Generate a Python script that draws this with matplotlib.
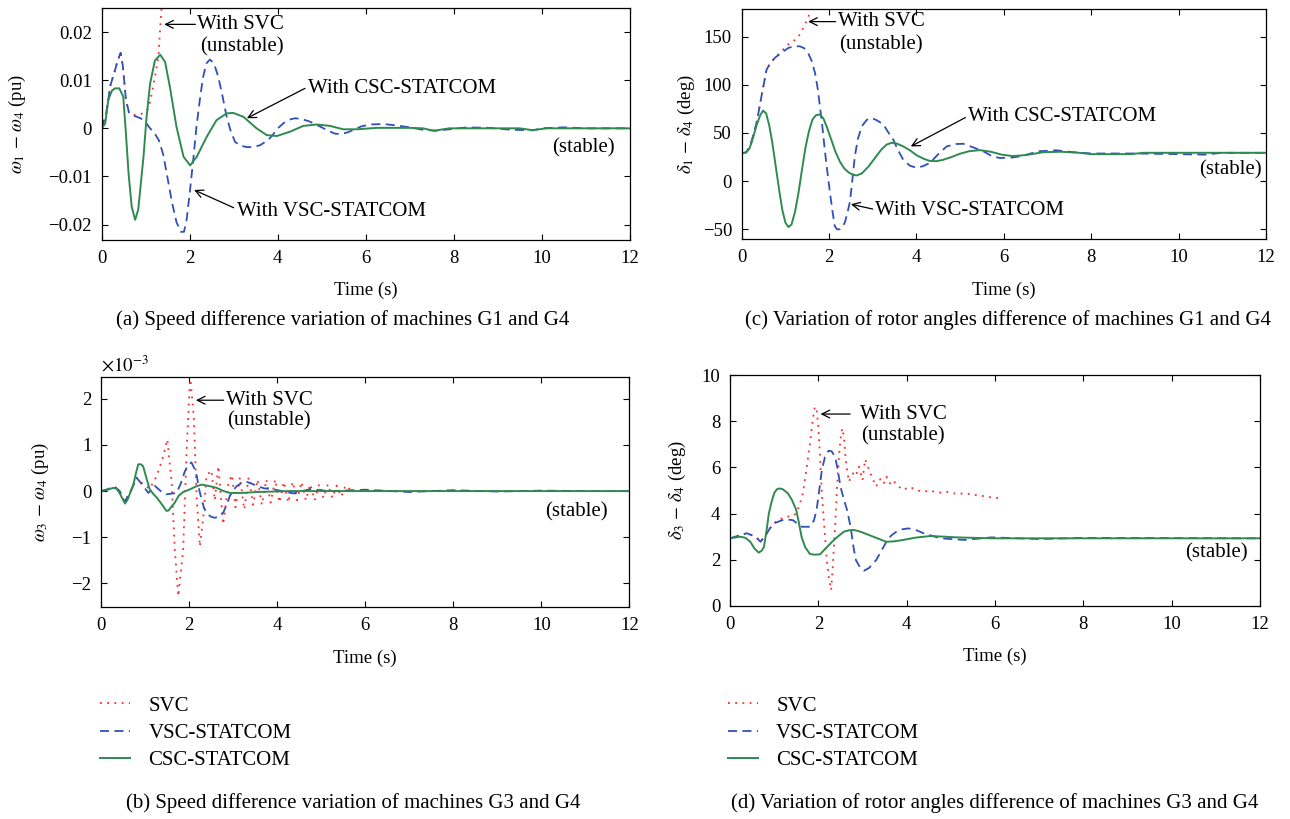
import matplotlib
matplotlib.use("Agg")
import matplotlib.pyplot as plt

plt.rcParams['font.family'] = ['Liberation Serif', 'DejaVu Serif']
plt.rcParams['mathtext.fontset'] = 'stix'

# ---------------- data ----------------
# (a) omega1 - omega4 (pu)
t_a_csc = [0, 0.08, 0.15, 0.23, 0.3, 0.4, 0.49, 0.55, 0.61, 0.68, 0.76, 0.83, 0.95, 1.02, 1.1, 1.21, 1.33, 1.44, 1.55, 1.7, 1.86, 2.01, 2.16, 2.39, 2.61, 2.84, 2.99, 3.22, 3.52, 3.75, 3.98, 4.28, 4.58, 4.89, 5.19, 5.49, 5.8, 6.25, 7.0, 7.3, 7.55, 7.9, 9.5, 9.8, 10.1, 12]
w14_csc = [0, 0.001, 0.0059, 0.0078, 0.0083, 0.0083, 0.0066, -0.001, -0.0093, -0.0162, -0.019, -0.0169, -0.0059, 0.0024, 0.0093, 0.0141, 0.0153, 0.0138, 0.0086, 0.0003, -0.0059, -0.0077, -0.0059, -0.0017, 0.0017, 0.0031, 0.0032, 0.0024, 0.0, -0.0014, -0.0016, -0.0007, 0.0005, 0.0008, 0.0005, -0.0002, -0.0002, 0.0001, 0.0001, 0.0, -0.0005, 0.0, 0.0, -0.0004, 0.0, 0.0]
t_a_vsc = [0, 0.1, 0.2, 0.3, 0.36, 0.43, 0.48, 0.55, 0.62, 0.7, 0.8, 0.9, 1.0, 1.1, 1.2, 1.3, 1.4, 1.5, 1.6, 1.7, 1.8, 1.87, 1.93, 2.0, 2.08, 2.15, 2.23, 2.3, 2.38, 2.46, 2.55, 2.65, 2.75, 2.84, 2.93, 3.03, 3.15, 3.3, 3.45, 3.6, 3.79, 3.9, 4.0, 4.15, 4.3, 4.4, 4.55, 4.7, 4.85, 5.0, 5.15, 5.3, 5.45, 5.6, 5.75, 5.9, 6.1, 6.4, 6.7, 7.0, 7.3, 7.6, 7.9, 8.3, 8.8, 9.3, 9.8, 10.0, 10.5, 11.0, 12]
w14_vsc = [0, 0.003, 0.009, 0.012, 0.014, 0.0157, 0.013, 0.006, 0.0033, 0.0027, 0.0024, 0.002, 0.0012, 0.0, -0.001, -0.0025, -0.0055, -0.0105, -0.0155, -0.0195, -0.0215, -0.0215, -0.019, -0.0135, -0.0066, 0.0, 0.0059, 0.0105, 0.0135, 0.0143, 0.0135, 0.0107, 0.0065, 0.0024, -0.0005, -0.0028, -0.0036, -0.0039, -0.0039, -0.0035, -0.0024, -0.0012, 0.0, 0.0012, 0.0019, 0.0021, 0.0019, 0.0015, 0.0009, 0.0002, -0.0005, -0.0011, -0.0012, -0.0008, -0.0002, 0.0004, 0.0008, 0.0009, 0.0006, 0.0002, -0.0003, -0.0005, -0.0002, 0.0002, 0.0001, -0.0003, -0.0004, 0.0, 0.0002, 0.0, 0.0]
t_a_svc = [0, 0.1, 0.2, 0.3, 0.36, 0.43, 0.48, 0.55, 0.62, 0.7, 0.8, 0.9, 1.0, 1.05, 1.1, 1.15, 1.2, 1.25, 1.29, 1.31, 1.33, 1.36, 1.4]
w14_svc = [0, 0.003, 0.009, 0.012, 0.014, 0.0157, 0.013, 0.006, 0.0031, 0.0028, 0.0028, 0.003, 0.0035, 0.004, 0.0055, 0.0078, 0.0102, 0.0128, 0.015, 0.018, 0.0211, 0.025, 0.03]

# (c) delta1 - delta4 (deg)
t_c_csc = [0, 0.1, 0.18, 0.26, 0.34, 0.42, 0.49, 0.56, 0.63, 0.7, 0.78, 0.86, 0.93, 1.0, 1.07, 1.14, 1.22, 1.3, 1.38, 1.46, 1.54, 1.62, 1.7, 1.79, 1.87, 1.95, 2.05, 2.15, 2.25, 2.35, 2.45, 2.55, 2.63, 2.75, 2.9, 3.05, 3.2, 3.32, 3.43, 3.55, 3.7, 3.85, 4.0, 4.15, 4.3, 4.45, 4.6, 4.8, 5.0, 5.2, 5.45, 5.7, 5.95, 6.2, 6.5, 6.9, 7.3, 7.7, 8.0, 8.9, 9.2, 12]
d14_csc = [29, 29.5, 34, 45, 58, 68, 73.3, 70, 58, 40, 15, -10, -30, -43, -47.7, -45, -32, -12, 12, 35, 52, 64, 68.5, 69.2, 65, 56, 43, 30, 20, 13, 9, 6.5, 5.9, 8, 15, 24, 33, 38, 39.8, 39, 36, 32, 27, 23.5, 21, 20.7, 22, 25, 28.5, 31, 32.2, 30.5, 27.5, 26, 27, 30, 30.5, 29.5, 28, 28, 29.4, 29.4]
t_c_vsc = [0, 0.1, 0.19, 0.26, 0.34, 0.4, 0.46, 0.52, 0.57, 0.65, 0.76, 0.9, 1.07, 1.2, 1.33, 1.43, 1.52, 1.6, 1.68, 1.74, 1.79, 1.85, 1.9, 1.96, 2.02, 2.08, 2.13, 2.18, 2.25, 2.31, 2.36, 2.42, 2.48, 2.53, 2.59, 2.66, 2.75, 2.86, 2.97, 3.1, 3.24, 3.35, 3.47, 3.58, 3.7, 3.85, 4.0, 4.15, 4.31, 4.5, 4.69, 4.9, 5.07, 5.3, 5.53, 5.72, 5.91, 6.2, 6.4, 6.8, 7.2, 7.6, 8.0, 9.0, 10.0, 10.6, 11.0, 12]
d14_vsc = [29, 30, 36, 47, 60.5, 75, 90, 104, 115.8, 122, 128, 133, 138.3, 140, 140, 138, 133, 125, 112, 96, 77.8, 55, 32.9, 10, -12, -32, -46.7, -50, -50, -47, -43, -33, -20.7, 0, 26, 44, 57, 63.5, 65.7, 63, 59, 51, 43, 32, 22, 16, 13.9, 15.5, 19, 28, 36, 38.5, 38.8, 35, 31, 26, 24, 24.5, 26, 31, 32, 30, 28.7, 28.7, 28, 27.5, 29.4, 29.4]
t_c_svc = [0, 0.1, 0.19, 0.26, 0.34, 0.4, 0.46, 0.52, 0.57, 0.65, 0.76, 0.9, 1.03, 1.1, 1.2, 1.3, 1.37, 1.45, 1.5, 1.56, 1.62]
d14_svc = [29, 30, 36, 47, 60.5, 75, 90, 104, 115.8, 122, 128, 134, 141, 143, 146, 150, 155.5, 163, 168, 174.6, 185]

# (b) omega3 - omega4 (x1e-3 pu)
t_b_csc = [0, 0.15, 0.27, 0.35, 0.42, 0.5, 0.54, 0.6, 0.67, 0.73, 0.79, 0.84, 0.9, 0.95, 1.02, 1.1, 1.18, 1.26, 1.37, 1.48, 1.53, 1.6, 1.67, 1.76, 1.86, 2.02, 2.15, 2.28, 2.45, 2.62, 2.78, 2.92, 3.2, 3.53, 4.29, 12]
w34_csc = [0, 0.03, 0.07, 0.05, -0.05, -0.2, -0.27, -0.18, 0.0, 0.14, 0.4, 0.58, 0.58, 0.54, 0.3, 0.04, -0.06, -0.14, -0.28, -0.43, -0.42, -0.33, -0.25, -0.1, -0.02, 0.04, 0.1, 0.14, 0.11, 0.07, 0.0, -0.04, -0.04, -0.02, 0.0, 0.0]
t_b_vsc = [0, 0.31, 0.42, 0.5, 0.54, 0.62, 0.69, 0.8, 0.88, 0.95, 1.07, 1.22, 1.35, 1.48, 1.71, 1.8, 1.9, 1.98, 2.05, 2.11, 2.17, 2.22, 2.28, 2.33, 2.39, 2.48, 2.58, 2.68, 2.77, 2.85, 2.92, 3.0, 3.08, 3.18, 3.3, 3.4, 3.53, 3.7, 3.9, 4.36, 4.74, 5.2, 6.0, 7.0, 8.0, 9.0, 10.0, 11.0, 12]
w34_vsc = [0, 0.09, 0.0, -0.18, -0.22, -0.08, 0.04, 0.29, 0.2, 0.11, -0.04, 0.11, 0.0, -0.07, -0.04, 0.15, 0.43, 0.58, 0.62, 0.5, 0.33, 0.05, -0.18, -0.35, -0.47, -0.55, -0.58, -0.55, -0.47, -0.3, -0.11, 0.02, 0.11, 0.17, 0.2, 0.17, 0.11, 0.06, 0.04, -0.05, 0.04, 0.0, 0.03, -0.02, 0.02, -0.01, 0.01, 0.0, 0.0]
t_b_svc = [0, 0.31, 0.42, 0.5, 0.54, 0.69, 0.8, 0.95, 1.1, 1.26, 1.41, 1.5, 1.6, 1.67, 1.75, 1.86, 1.94, 2.02, 2.1, 2.17, 2.24, 2.32, 2.39, 2.5, 2.58, 2.66, 2.77, 2.89, 2.97, 3.05, 3.15, 3.25, 3.35, 3.45, 3.55, 3.65, 3.75, 3.85, 3.95, 4.05, 4.15, 4.25, 4.35, 4.45, 4.55, 4.65, 4.75, 4.85, 4.95, 5.05, 5.15, 5.25, 5.35, 5.45, 5.55, 5.7]
w34_svc = [0, 0.09, 0.0, -0.18, -0.22, 0.04, 0.29, 0.15, 0.05, 0.33, 0.76, 1.12, 0.18, -1.27, -2.28, -1.27, 0.9, 2.5, 1.63, -0.18, -1.2, -0.54, 0.33, 0.45, -0.2, 0.54, -0.72, 0.18, 0.35, -0.35, 0.3, -0.4, 0.3, -0.3, 0.25, -0.3, 0.25, -0.25, 0.25, -0.25, 0.2, -0.25, 0.2, -0.2, 0.2, -0.2, 0.15, -0.2, 0.15, -0.15, 0.15, -0.15, 0.12, -0.12, 0.12, 0.0]

# (d) delta3 - delta4 (deg)
t_d_csc = [0, 0.23, 0.35, 0.46, 0.55, 0.65, 0.72, 0.77, 0.83, 0.88, 0.94, 1.0, 1.06, 1.12, 1.2, 1.31, 1.4, 1.5, 1.56, 1.62, 1.7, 1.81, 1.92, 2.04, 2.17, 2.31, 2.45, 2.58, 2.7, 2.81, 2.95, 3.15, 3.35, 3.54, 3.72, 3.92, 4.2, 4.54, 4.85, 5.15, 5.92, 12]
d34_csc = [2.93, 3.0, 2.95, 2.78, 2.5, 2.31, 2.4, 2.57, 3.3, 4.01, 4.5, 4.88, 5.05, 5.09, 5.05, 4.88, 4.6, 4.16, 3.6, 3.0, 2.55, 2.25, 2.22, 2.24, 2.5, 2.78, 3.02, 3.22, 3.28, 3.29, 3.22, 3.07, 2.92, 2.78, 2.8, 2.86, 2.96, 3.03, 3.0, 2.97, 2.93, 2.93]
t_d_vsc = [0, 0.2, 0.38, 0.58, 0.69, 0.81, 0.9, 1.0, 1.23, 1.42, 1.62, 1.81, 1.9, 1.96, 2.02, 2.08, 2.15, 2.23, 2.3, 2.38, 2.44, 2.5, 2.58, 2.65, 2.73, 2.8, 2.85, 2.95, 3.04, 3.15, 3.31, 3.43, 3.54, 3.65, 3.77, 3.9, 4.04, 4.2, 4.38, 4.77, 5.31, 5.92, 7.0, 8.0, 12]
d34_vsc = [2.93, 3.05, 3.15, 3.0, 2.78, 3.07, 3.35, 3.58, 3.75, 3.72, 3.43, 3.43, 3.7, 4.16, 5.0, 5.89, 6.45, 6.72, 6.7, 6.46, 5.9, 5.17, 4.6, 4.16, 3.43, 2.5, 1.99, 1.65, 1.53, 1.65, 1.99, 2.4, 2.78, 3.05, 3.22, 3.32, 3.36, 3.3, 3.15, 2.93, 2.86, 2.97, 2.9, 2.95, 2.93]
t_d_svc = [0, 0.2, 0.38, 0.58, 0.69, 0.81, 0.9, 1.0, 1.23, 1.42, 1.5, 1.58, 1.65, 1.73, 1.81, 1.87, 1.92, 1.96, 2.0, 2.04, 2.08, 2.14, 2.19, 2.24, 2.29, 2.33, 2.38, 2.42, 2.46, 2.5, 2.54, 2.58, 2.62, 2.69, 2.75, 2.81, 2.86, 2.92, 3.0, 3.06, 3.15, 3.23, 3.31, 3.37, 3.42, 3.48, 3.54, 3.62, 3.69, 3.8, 3.92, 4.05, 4.15, 4.25, 4.38, 4.55, 4.65, 4.77, 4.9, 5.0, 5.15, 5.3, 5.4, 5.5, 5.62, 5.75, 5.92, 6.12]
d34_svc = [2.93, 3.05, 3.15, 3.0, 2.78, 3.07, 3.35, 3.6, 3.85, 3.9, 4.01, 4.4, 4.88, 5.9, 7.04, 8.0, 8.63, 8.5, 7.76, 6.4, 4.88, 3.3, 1.99, 1.2, 0.69, 1.8, 3.43, 5.0, 6.32, 7.2, 7.69, 7.3, 6.32, 5.38, 5.6, 5.82, 5.7, 6.03, 5.45, 6.35, 5.89, 5.5, 5.17, 5.45, 5.5, 5.3, 5.6, 5.3, 5.45, 5.2, 5.02, 5.15, 5.09, 5.0, 4.95, 5.0, 4.92, 4.91, 4.95, 4.9, 4.85, 4.88, 4.85, 4.8, 4.81, 4.75, 4.7, 4.66]

x_ticks = [0, 2, 4, 6, 8, 10, 12]
legend_labels = ["SVC", "VSC-STATCOM", "CSC-STATCOM"]

# ---------------- style ----------------
C_SVC = '#ff2a2a'
C_VSC = '#3050b8'
C_CSC = '#2f8a50'
FS = 13.5
FA = 15

fig = plt.figure(figsize=(12.9, 8.19), dpi=100)

def mk_ax(l, r, top, bot):
    W, H = 1290.0, 819.0
    ax = fig.add_axes([l / W, 1 - bot / H, (r - l) / W, (bot - top) / H])
    ax.tick_params(direction='in', top=True, right=True, labelsize=FS, length=4, width=0.8, pad=7)
    for s in ax.spines.values():
        s.set_linewidth(0.9)
    ax.set_xlim(0, 12)
    ax.set_xticks(x_ticks)
    return ax

def draw(ax, ts):
    (t1, y1), (t2, y2), (t3, y3) = ts
    l1, = ax.plot(t1, y1, color=C_SVC, ls=(0, (1, 3)), lw=1.3)
    l2, = ax.plot(t2, y2, color=C_VSC, ls=(0, (5, 3)), lw=1.3)
    l3, = ax.plot(t3, y3, color=C_CSC, ls='-', lw=1.4)
    return [l1, l2, l3]

def arrow(ax, tip, tail):
    ax.annotate('', xy=tip, xytext=tail,
                arrowprops=dict(arrowstyle='->', color='k', lw=0.9,
                                shrinkA=0, shrinkB=0, mutation_scale=14))

def labels(ax, ylab, xc):
    ax.set_xlabel('Time (s)', fontsize=FS, labelpad=11)
    ax.set_ylabel(ylab, fontsize=FS, va='center')
    ax.yaxis.set_label_coords(xc, 0.5)

def legend(ax, lines, ax_x, ax_y):
    ax.legend(lines, legend_labels, loc='upper left', bbox_to_anchor=(ax_x, ax_y),
              frameon=False, fontsize=FA, handlelength=1.45, handletextpad=0.87,
              labelspacing=0.37, borderpad=0, borderaxespad=0)

# (a)
axa = mk_ax(101.7, 629.7, 8, 240)
draw(axa, [(t_a_svc, w14_svc), (t_a_vsc, w14_vsc), (t_a_csc, w14_csc)])
axa.set_ylim(-0.0232, 0.025)
axa.set_yticks([-0.02, -0.01, 0, 0.01, 0.02])
axa.set_yticklabels(['\u22120.02', '\u22120.01', '0', '0.01', '0.02'])
labels(axa, r'$\omega_1$ $-$ $\omega_4$ (pu)', -0.160)
arrow(axa, (1.42, 0.0216), (2.13, 0.0216))
axa.text(2.17, 0.0216, 'With SVC', fontsize=FA, va='center', ha='left')
axa.text(3.19, 0.017, '(unstable)', fontsize=FA, va='center', ha='center')
arrow(axa, (3.3, 0.0021), (4.62, 0.0083))
axa.text(4.69, 0.0083, 'With CSC-STATCOM', fontsize=FA, va='center', ha='left')
arrow(axa, (2.1, -0.0128), (3.0, -0.0165))
axa.text(3.07, -0.0173, 'With VSC-STATCOM', fontsize=FA, va='center', ha='left')
axa.text(11.67, -0.0041, '(stable)', fontsize=FA, va='center', ha='right')

# (c)
axc = mk_ax(741.7, 1266, 9, 239.3)
draw(axc, [(t_c_svc, d14_svc), (t_c_vsc, d14_vsc), (t_c_csc, d14_csc)])
axc.set_ylim(-60.4, 178.7)
axc.set_yticks([-50, 0, 50, 100, 150])
axc.set_yticklabels(['\u221250', '0', '50', '100', '150'])
labels(axc, r'$\delta_1$ $-$ $\delta_4$ (deg)', -0.106)
arrow(axc, (1.52, 165.6), (2.15, 165.6))
axc.text(2.2, 165.6, 'With SVC', fontsize=FA, va='center', ha='left')
axc.text(3.19, 141.8, '(unstable)', fontsize=FA, va='center', ha='center')
arrow(axc, (3.87, 36), (5.12, 66))
axc.text(5.18, 67, 'With CSC-STATCOM', fontsize=FA, va='center', ha='left')
arrow(axc, (2.5, -24), (3.0, -29))
axc.text(3.05, -31, 'With VSC-STATCOM', fontsize=FA, va='center', ha='left')
axc.text(11.9, 12.1, '(stable)', fontsize=FA, va='center', ha='right')

# (b)
axb = mk_ax(101.3, 629.3, 376.7, 607.3)
lines_b = draw(axb, [(t_b_svc, w34_svc), (t_b_vsc, w34_vsc), (t_b_csc, w34_csc)])
axb.set_ylim(-2.52, 2.48)
axb.set_yticks([-2, -1, 0, 1, 2])
axb.set_yticklabels(['\u22122', '\u22121', '0', '1', '2'])
labels(axb, r'$\omega_3$ $-$ $\omega_4$ (pu)', -0.116)
axb.text(0.0, 1.005, r'$\times10^{-3}$', transform=axb.transAxes, fontsize=FS, ha='left', va='bottom')
arrow(axb, (2.15, 1.97), (2.78, 1.97))
axb.text(2.83, 1.97, 'With SVC', fontsize=FA, va='center', ha='left')
axb.text(3.81, 1.52, '(unstable)', fontsize=FA, va='center', ha='center')
axb.text(11.5, -0.44, '(stable)', fontsize=FA, va='center', ha='right')
legend(axb, lines_b, -0.002, -0.385)

# (d)
axd = mk_ax(730, 1260, 375, 606)
lines_d = draw(axd, [(t_d_svc, d34_svc), (t_d_vsc, d34_vsc), (t_d_csc, d34_csc)])
axd.set_ylim(0, 10)
axd.set_yticks([0, 2, 4, 6, 8, 10])
labels(axd, r'$\delta_3$ $-$ $\delta_4$ (deg)', -0.100)
arrow(axd, (2.05, 8.31), (2.72, 8.31))
axd.text(2.95, 8.31, 'With SVC', fontsize=FA, va='center', ha='left')
axd.text(3.92, 7.36, '(unstable)', fontsize=FA, va='center', ha='center')
axd.text(11.72, 2.29, '(stable)', fontsize=FA, va='center', ha='right')
legend(axd, lines_d, -0.004, -0.39)

# captions
fig.text(343 / 1290, 1 - 320 / 819, '(a) Speed difference variation of machines G1 and G4', fontsize=FA, ha='center', va='center')
fig.text(1008 / 1290, 1 - 320 / 819, '(c) Variation of rotor angles difference of machines G1 and G4', fontsize=FA, ha='center', va='center')
fig.text(353 / 1290, 1 - 803 / 819, '(b) Speed difference variation of machines G3 and G4', fontsize=FA, ha='center', va='center')
fig.text(995 / 1290, 1 - 803 / 819, '(d) Variation of rotor angles difference of machines G3 and G4', fontsize=FA, ha='center', va='center')

fig.savefig('out.png', dpi=100)
